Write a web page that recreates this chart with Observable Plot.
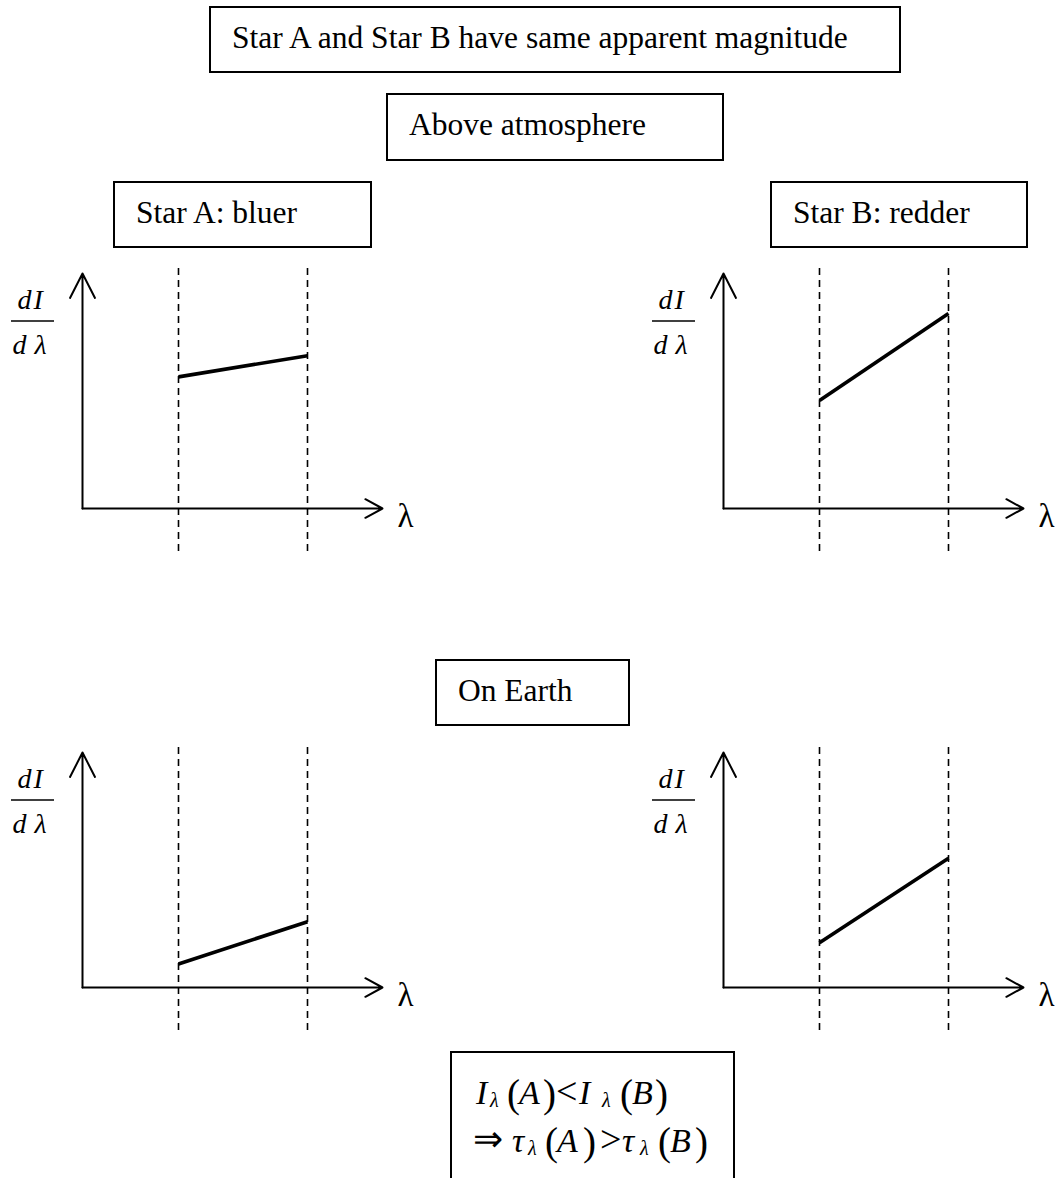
<!DOCTYPE html>
<html>
<head>
<meta charset="utf-8">
<script src="https://cdn.jsdelivr.net/npm/d3@7"></script>
<script src="https://cdn.jsdelivr.net/npm/@observablehq/plot@0.6"></script>
<style>
  body { margin: 0; background: #fff; }
  #page { position: relative; width: 1058px; height: 1178px; overflow: hidden; background: #fff; }
  #page > svg { position: absolute; }
</style>
</head>
<body>
<div id="page"></div>
<script>
// Wavelength window (λ axis runs 0–10, arbitrary units)
const bandEdges = [3.2, 7.5];

// dI/dλ at the two window edges (intensity axis runs 0–10, arbitrary units)
const starAAbove = [5.6, 6.5];
const starBAbove = [4.6, 8.3];
const starAEarth = [1.0, 2.8];
const starBEarth = [1.9, 5.5];

const axisMax = 10;

const headings = ["Star A and Star B have same apparent magnitude", "Above atmosphere", "On Earth"];
const starLabels = ["Star A: bluer", "Star B: redder"];

const serif = "'Liberation Serif', 'Times New Roman', serif";
const page = document.getElementById("page");

// One spectrum panel: open-arrow axes, dashed window edges, straight spectrum segment
function panel(values, left, top) {
  const spectrum = bandEdges.map((lambda, i) => ({lambda, flux: values[i]}));
  const label = (s, dx, dy) => Plot.text([s], {
    frameAnchor: "bottom-left", dx, dy, textAnchor: "start", lineAnchor: "bottom",
    fontSize: 28, fontStyle: "italic", fontFamily: serif, fill: "#000"
  });
  const svg = Plot.plot({
    width: 417,
    height: 310,
    marginLeft: 82,
    marginRight: 35,
    marginTop: 23,
    marginBottom: 52,
    x: {domain: [0, axisMax], axis: null},
    y: {domain: [0, axisMax], axis: null},
    style: {background: "transparent", overflow: "visible", fontFamily: serif, color: "#000"},
    marks: [
      Plot.ruleX(bandEdges, {stroke: "#000", strokeWidth: 1.6, strokeDasharray: "7,5", insetTop: -5, insetBottom: -45}),
      Plot.arrow([axisMax], {x1: 0, y1: 0, x2: 0, y2: d => d, stroke: "#000", strokeWidth: 2, headAngle: 54, headLength: 20.6}),
      Plot.arrow([axisMax], {x1: 0, y1: 0, x2: d => d, y2: 0, stroke: "#000", strokeWidth: 2, headAngle: 57, headLength: 14.6}),
      Plot.line(spectrum, {x: "lambda", y: "flux", stroke: "#000", strokeWidth: 3.6, strokeLinecap: "butt"}),
      Plot.text(["λ"], {frameAnchor: "bottom-right", dx: 15, dy: 18, textAnchor: "start", lineAnchor: "bottom", fontSize: 33, fontFamily: serif, fill: "#000"}),
      // dI/dλ label: numerator and denominator letters
      label("d", -65, -200),
      label("I", -49, -200),
      label("d", -70, -155),
      label("λ", -48, -155)
    ]
  });
  // fraction bar of the dI/dλ label
  const origin = {x: 82, y: 310 - 52};
  d3.select(svg).append("line")
    .attr("x1", origin.x - 71).attr("x2", origin.x - 28)
    .attr("y1", origin.y - 187).attr("y2", origin.y - 187)
    .attr("stroke", "#000").attr("stroke-width", 1.3);
  svg.style.left = left + "px";
  svg.style.top = top + "px";
  page.appendChild(svg);
}

panel(starAAbove, 0, 250);
panel(starBAbove, 641, 250);
panel(starAEarth, 0, 729);
panel(starBEarth, 641, 729);

// Boxed headings and the conclusion box
const overlay = d3.select(page).append("svg")
  .attr("width", 1058).attr("height", 1178)
  .style("left", "0px").style("top", "0px")
  .style("pointer-events", "none")
  .attr("font-family", serif);

const boxes = [
  {text: headings[0], x: 210, y: 7, w: 690, h: 65},
  {text: headings[1], x: 387, y: 94, w: 336, h: 66},
  {text: starLabels[0], x: 114, y: 182, w: 257, h: 65},
  {text: starLabels[1], x: 771, y: 182, w: 256, h: 65},
  {text: headings[2], x: 436, y: 660, w: 193, h: 65}
];

for (const b of boxes) {
  overlay.append("rect")
    .attr("x", b.x).attr("y", b.y).attr("width", b.w).attr("height", b.h)
    .attr("fill", "none").attr("stroke", "#000").attr("stroke-width", 2);
  overlay.append("text")
    .attr("x", b.x + 22).attr("y", b.y + 41)
    .attr("font-size", 31.5).attr("fill", "#000")
    .text(b.text);
}

// Conclusion box (runs off the bottom edge)
overlay.append("rect")
  .attr("x", 451).attr("y", 1052).attr("width", 283).attr("height", 200)
  .attr("fill", "none").attr("stroke", "#000").attr("stroke-width", 2);

// kind: "it" italic letter, "sub" italic subscript, "paren" tall bracket,
// "rel" relation sign, "arrow" implication arrow
const sizes = {it: 34, sub: 20, paren: 39, rel: 38, arrow: 36};
const shifts = {it: 0, sub: 3, paren: 3, rel: 0, arrow: -1};

function formulaLine(baseline, pieces) {
  const t = overlay.append("text").attr("y", baseline).attr("fill", "#000");
  for (const p of pieces) {
    const kind = p.k;
    t.append("tspan")
      .attr("x", p.x)
      .attr("y", baseline + shifts[kind])
      .attr("font-size", sizes[kind])
      .attr("font-style", kind === "it" || kind === "sub" ? "italic" : "normal")
      .text(p.s);
  }
}

formulaLine(1104, [
  {s: "I", x: 476, k: "it"},
  {s: "λ", x: 490, k: "sub"},
  {s: "(", x: 507, k: "paren"},
  {s: "A", x: 519, k: "it"},
  {s: ")", x: 543, k: "paren"},
  {s: "<", x: 556, k: "rel"},
  {s: "I", x: 579, k: "it"},
  {s: "λ", x: 602, k: "sub"},
  {s: "(", x: 620, k: "paren"},
  {s: "B", x: 632, k: "it"},
  {s: ")", x: 655, k: "paren"}
]);

formulaLine(1152, [
  {s: "⇒", x: 473, k: "arrow"},
  {s: "τ", x: 512, k: "it"},
  {s: "λ", x: 528, k: "sub"},
  {s: "(", x: 545, k: "paren"},
  {s: "A", x: 557, k: "it"},
  {s: ")", x: 583, k: "paren"},
  {s: ">", x: 600, k: "rel"},
  {s: "τ", x: 622, k: "it"},
  {s: "λ", x: 640, k: "sub"},
  {s: "(", x: 658, k: "paren"},
  {s: "B", x: 670, k: "it"},
  {s: ")", x: 695, k: "paren"}
]);
</script>
</body>
</html>
